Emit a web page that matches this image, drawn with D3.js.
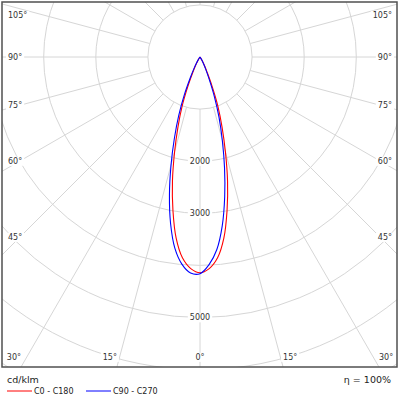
<!DOCTYPE html>
<html>
<head>
<meta charset="utf-8">
<script src="https://cdn.jsdelivr.net/npm/d3@7"></script>
<style>
  body { margin: 0; background: #fff; }
  svg { display: block; }
  text { font-family: "DejaVu Sans", Verdana, sans-serif; fill: #333; }
</style>
</head>
<body>
<svg id="chart"></svg>
<script>
// gamma angles (deg from nadir) and intensities in cd/klm
const gammas = [0, 2.5, 5, 7.5, 10, 12.5, 15, 17.5, 20, 22.5, 25, 27.5, 30, 32.5, 35, 40, 45, 50, 60, 70, 80, 90]
const c0   = [4140, 4065, 3869, 3507, 2991, 2443, 1884, 1405, 1002, 600, 320, 190, 100, 45, 15, 5, 0, 0, 0, 0, 0, 0]
const c180 = [4140, 4065, 3869, 3507, 2991, 2443, 1884, 1405, 1002, 600, 320, 190, 100, 45, 15, 5, 0, 0, 0, 0, 0, 0]
const c90  = [4160, 3990, 3710, 3270, 2728, 2175, 1654, 1212, 799, 455, 258, 147, 74, 31, 12, 3, 0, 0, 0, 0, 0, 0]
const c270 = [4160, 4150, 3990, 3700, 3250, 2710, 2150, 1635, 1195, 783, 445, 252, 143, 71, 29, 8, 2, 0, 0, 0, 0, 0]

const rings = [1000, 2000, 3000, 4000, 5000, 6000, 7000, 8000]
const ringLabels = [2000, 3000, 5000]
const sideLabels = [105, 90, 75, 60, 45]
const bottomLabels = [30, 15, 0]

const series = [
  { name: 'C0 - C180', left: c180, right: c0, color: '#ff0000' },
  { name: 'C90 - C270', left: c270, right: c90, color: '#0000ff' }
]

// LAYOUT
const width = 400, height = 400
const frame = { x0: 2, y0: 2, x1: 397, y1: 367 }
const cx = 200, cy = 57
const r = d3.scaleLinear().domain([0, 1000]).range([0, 52.1])
const rad = d => d * Math.PI / 180
const gridColor = '#d6d6d6'

const svg = d3.select('#chart').attr('width', width).attr('height', height)

svg.append('clipPath').attr('id', 'clip')
  .append('rect')
  .attr('x', frame.x0).attr('y', frame.y0)
  .attr('width', frame.x1 - frame.x0).attr('height', frame.y1 - frame.y0)

const grid = svg.append('g').attr('clip-path', 'url(#clip)')

// CIRCLES
grid.selectAll('circle')
  .data(rings)
  .enter()
  .append('circle')
    .attr('cx', cx).attr('cy', cy)
    .attr('r', d => r(d))
    .attr('fill', 'none')
    .attr('stroke', gridColor)
    .attr('stroke-width', 1)

// SPOKES every 15 deg, starting at the first ring
grid.selectAll('line')
  .data(d3.range(0, 360, 15))
  .enter()
  .append('line')
    .attr('x1', a => cx + r(rings[0]) * Math.sin(rad(a)))
    .attr('y1', a => cy + r(rings[0]) * Math.cos(rad(a)))
    .attr('x2', a => cx + r(10000) * Math.sin(rad(a)))
    .attr('y2', a => cy + r(10000) * Math.cos(rad(a)))
    .attr('stroke', gridColor)
    .attr('stroke-width', 1)

// LABELS WITH WHITE BACKGROUND
const labels = svg.append('g')
function addLabel(x, y, txt, anchor, size) {
  const g = labels.append('g')
  const bg = g.append('rect').attr('fill', '#fff')
  const t = g.append('text')
    .attr('x', x).attr('y', y)
    .attr('dy', '0.36em')
    .attr('text-anchor', anchor)
    .style('font-size', size + 'px')
    .text(txt)
  const b = t.node().getBBox()
  bg.attr('x', b.x - 2).attr('y', b.y)
    .attr('width', b.width + 4).attr('height', b.height)
}

ringLabels.forEach(v => addLabel(cx, cy + r(v), v, 'middle', 8))

const inset = 18
sideLabels.forEach(a => {
  let y = cy + (cx - frame.x0 - inset) / Math.tan(rad(a))
  if (a === 90) y = cy
  y = Math.max(y, frame.y0 + 13)
  addLabel(frame.x0 + 6, y, a + '°', 'start', 8)
  addLabel(frame.x1 - 5, y, a + '°', 'end', 8)
})

bottomLabels.forEach(a => {
  const dx = (frame.y1 - cy) * Math.tan(rad(a))
  const y = frame.y1 - 10
  if (a === 0) {
    addLabel(cx, y, a + '°', 'middle', 8)
  } else {
    addLabel(cx - dx, y, a + '°', 'end', 8)
    addLabel(cx + dx, y, a + '°', 'start', 8)
  }
})

// CURVES
const line = d3.line().curve(d3.curveCatmullRom.alpha(0.5))

function curvePoints(s) {
  const pts = []
  for (let i = gammas.length - 1; i >= 0; i--) {
    pts.push([cx - r(s.left[i]) * Math.sin(rad(gammas[i])), cy + r(s.left[i]) * Math.cos(rad(gammas[i]))])
  }
  for (let i = 1; i < gammas.length; i++) {
    pts.push([cx + r(s.right[i]) * Math.sin(rad(gammas[i])), cy + r(s.right[i]) * Math.cos(rad(gammas[i]))])
  }
  // drop repeated points at the centre
  return pts.filter((p, i) => i === 0 || Math.hypot(p[0] - pts[i - 1][0], p[1] - pts[i - 1][1]) > 0.01)
}

svg.append('g')
  .selectAll('path')
  .data(series)
  .enter()
  .append('path')
    .attr('d', d => line(curvePoints(d)))
    .attr('fill', 'none')
    .attr('stroke', d => d.color)
    .attr('stroke-width', 1.1)

// FRAME
svg.append('rect')
  .attr('x', frame.x0).attr('y', frame.y0)
  .attr('width', frame.x1 - frame.x0).attr('height', frame.y1 - frame.y0)
  .attr('fill', 'none')
  .attr('stroke', '#505050')
  .attr('stroke-width', 1.5)

// FOOTER
svg.append('text')
  .attr('x', 7).attr('y', 383)
  .style('font-size', '9.5px')
  .style('fill', '#222')
  .text('cd/klm')

svg.append('text')
  .attr('x', 391).attr('y', 383)
  .attr('text-anchor', 'end')
  .style('font-size', '9.5px')
  .style('fill', '#222')
  .text('η = 100%')

const legend = svg.append('g')
  .selectAll('g')
  .data(series)
  .enter()
  .append('g')
    .attr('transform', (d, i) => `translate(${7 + i * 79}, 391)`)

legend.append('line')
  .attr('x1', 0).attr('x2', 25)
  .attr('stroke', d => d.color)
  .attr('stroke-width', 1)

legend.append('text')
  .attr('x', 27).attr('dy', '0.36em')
  .style('font-size', '8px')
  .style('fill', '#222')
  .text(d => d.name)
</script>
</body>
</html>
